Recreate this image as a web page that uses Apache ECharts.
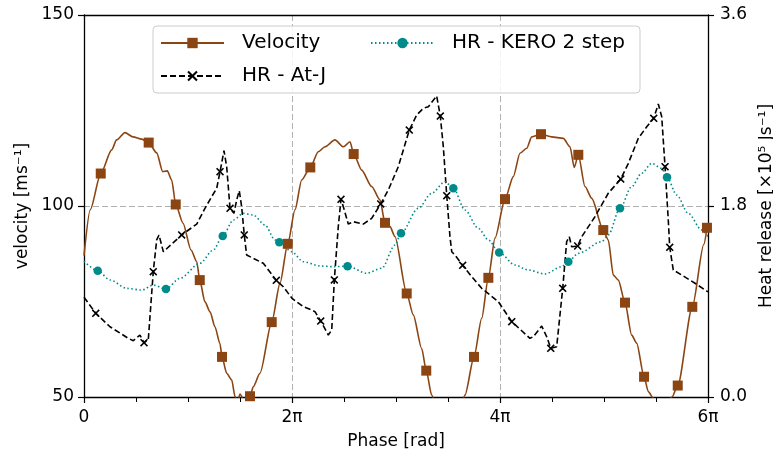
<!DOCTYPE html>
<html><head><meta charset="utf-8">
<script src="https://cdn.jsdelivr.net/npm/echarts@6/dist/echarts.min.js"></script>
<style>html,body{margin:0;padding:0;background:#fff}#c{width:773px;height:455px}</style>
</head><body><div id="c"></div><script>
// x values are phase in units of pi (rad / pi)
const velX = [0.0,0.06,0.161,0.266,0.314,0.394,0.471,0.555,0.622,0.699,0.757,0.801,0.843,0.882,0.952,1.029,1.084,1.113,1.163,1.212,1.259,1.307,1.327,1.372,1.420,1.452,1.476,1.500,1.538,1.596,1.628,1.692,1.805,1.885,1.959,2.029,2.093,2.176,2.253,2.317,2.413,2.493,2.558,2.593,2.670,2.766,2.846,2.894,2.942,2.990,3.103,3.166,3.247,3.291,3.343,3.423,3.519,3.596,3.663,3.750,3.824,3.888,3.952,4.048,4.128,4.192,4.257,4.305,4.394,4.497,4.609,4.673,4.714,4.753,4.817,4.882,4.993,5.041,5.090,5.138,5.202,5.266,5.314,5.385,5.426,5.474,5.538,5.606,5.654,5.709,5.849,5.960,5.990];
const velY = [87.0,99.0,108.5,114.7,117.3,119.2,118.1,117.5,116.6,113.9,109.0,109.2,106.8,100.4,95.5,88.5,85.4,80.6,74.9,72.3,68.4,64.0,60.5,56.2,54.5,50.1,48.7,50.8,49.2,50.2,52.7,56.2,69.6,79.8,90.1,99.0,106.8,110.1,114.2,115.5,117.3,115.5,116.8,113.6,109.4,105.1,101.6,95.6,94.6,92.0,77.1,71.5,62.7,56.9,50.5,44.0,41.5,44.0,50.5,60.5,70.6,81.2,91.6,101.8,107.7,113.8,115.1,118.1,118.8,118.1,117.7,115.5,110.1,113.4,105.1,102.0,93.7,91.1,81.9,80.6,74.7,66.2,64.1,55.3,51.4,49.7,47.9,48.7,50.0,53.0,73.6,90.0,94.3];
const velMarks = [2,8,13,17,22,29,32,34,37,43,47,50,53,59,61,63,68,73,76,80,83,89,90,92];

const ajX = [0.0,0.113,0.25,0.426,0.474,0.538,0.577,0.618,0.666,0.699,0.721,0.763,0.939,1.084,1.163,1.228,1.276,1.308,1.346,1.372,1.404,1.442,1.468,1.493,1.516,1.541,1.564,1.628,1.724,1.849,1.916,2.0,2.109,2.189,2.221,2.276,2.349,2.382,2.407,2.445,2.471,2.503,2.541,2.589,2.686,2.766,2.853,2.926,3.022,3.128,3.199,3.263,3.311,3.391,3.426,3.455,3.488,3.519,3.536,3.567,3.641,3.728,3.824,3.984,4.113,4.288,4.320,4.401,4.449,4.488,4.545,4.603,4.641,4.666,4.689,4.747,4.786,4.913,5.041,5.161,5.234,5.330,5.411,5.426,5.478,5.522,5.555,5.587,5.618,5.632,5.666,5.747,5.875,6.0];
const ajY = [0.94,0.789,0.662,0.553,0.531,0.584,0.512,0.537,1.181,1.480,1.527,1.369,1.527,1.630,1.778,1.888,1.967,2.123,2.321,2.170,1.778,1.731,1.857,1.944,1.793,1.527,1.338,1.307,1.260,1.100,1.039,0.930,0.851,0.820,0.804,0.716,0.584,0.631,1.103,1.605,1.863,1.762,1.630,1.652,1.630,1.684,1.819,1.951,2.170,2.516,2.658,2.721,2.736,2.837,2.648,2.359,1.897,1.511,1.369,1.338,1.241,1.134,1.024,0.898,0.710,0.553,0.568,0.669,0.568,0.459,0.474,1.024,1.464,1.511,1.416,1.423,1.511,1.699,1.920,2.054,2.202,2.438,2.547,2.563,2.626,2.761,2.642,2.170,1.668,1.411,1.197,1.150,1.072,0.990];
const ajMarks = [1,6,8,12,17,20,25,29,35,38,40,46,49,54,56,60,64,69,71,75,79,84,87,89];

const keX = [0.0,0.132,0.25,0.411,0.555,0.666,0.788,0.923,1.115,1.243,1.334,1.436,1.532,1.628,1.740,1.837,1.878,1.997,2.109,2.269,2.397,2.534,2.718,2.863,2.990,3.048,3.214,3.343,3.471,3.551,3.663,3.791,3.888,3.992,4.144,4.272,4.433,4.593,4.657,4.753,4.978,5.041,5.154,5.266,5.362,5.459,5.555,5.606,5.699,5.810,5.939,6.0];
const keY = [1.28,1.190,1.103,1.024,1.008,1.055,1.018,1.119,1.260,1.385,1.517,1.668,1.731,1.715,1.621,1.480,1.459,1.369,1.275,1.235,1.228,1.233,1.166,1.213,1.432,1.543,1.778,1.920,2.029,1.967,1.762,1.590,1.480,1.362,1.244,1.197,1.159,1.228,1.275,1.354,1.464,1.527,1.778,1.982,2.108,2.202,2.155,2.070,1.904,1.731,1.574,1.511];
const keMarks = [1,6,10,16,21,25,29,33,38,42,47];

const xTicks = [0, 2, 4, 6];
const xTickLabels = ['0', '2π', '4π', '6π'];

const FONT = 'DejaVu Sans';
const X_PATH = 'path://M0,1.4L1.4,0L5,3.6L8.6,0L10,1.4L6.4,5L10,8.6L8.6,10L5,6.4L1.4,10L0,8.6L3.6,5Z';

function build(xs, ys, marks) {
  const s = new Set(marks);
  return xs.map((x, i) => s.has(i) ? { value: [x, ys[i]] } : { value: [x, ys[i]], symbol: 'none' });
}

const chart = echarts.init(document.getElementById('c'), null, { renderer: 'canvas' });
const tickStyle = { fontSize: 17, color: '#000', fontFamily: FONT };
chart.setOption({
  animation: false,
  backgroundColor: '#fff',
  grid: { left: 84, right: 65, top: 15, bottom: 58, containLabel: false, outerBoundsMode: 'none' },
  graphic: [{
    type: 'rect', z: 3,
    shape: { x: 153, y: 26, width: 487, height: 67, r: 4 },
    style: { fill: 'rgba(255,255,255,0.85)', stroke: '#cccccc', lineWidth: 1 }
  }],
  legend: [{
    data: ['Velocity', 'HR - At-J'], orient: 'vertical', left: 160, top: 33, padding: 0,
    itemWidth: 63, itemHeight: 13, itemGap: 13, z: 5,
    textStyle: { fontSize: 20, lineHeight: 20, color: '#000', fontFamily: FONT, padding: [0, 0, 0, 13] }
  }, {
    data: ['HR - KERO 2 step'], orient: 'vertical', left: 370, top: 33, padding: 0,
    itemWidth: 63, itemHeight: 13, z: 5,
    textStyle: { fontSize: 20, lineHeight: 20, color: '#000', fontFamily: FONT, padding: [0, 0, 0, 13] }
  }],
  xAxis: [{
    type: 'value', min: 0, max: 6, interval: 2,
    name: 'Phase [rad]', nameLocation: 'middle', nameGap: 36,
    nameTextStyle: tickStyle,
    axisLine: { lineStyle: { color: '#000', width: 1.3 } },
    axisTick: { length: 6, lineStyle: { color: '#000', width: 1.2 } },
    minorTick: { show: true, splitNumber: 4, length: 5, lineStyle: { color: '#000', width: 1 } },
    axisLabel: Object.assign({ margin: 12, formatter: v => { const k = xTicks.indexOf(v); return k >= 0 ? xTickLabels[k] : ''; } }, tickStyle),
    splitLine: { show: true, lineStyle: { color: '#b0b0b0', type: [6, 3], width: 1 } }
  }, {
    type: 'value', min: 0, max: 6, position: 'top',
    axisLine: { show: true, onZero: false, lineStyle: { color: '#000', width: 1.3 } },
    axisTick: { show: false }, axisLabel: { show: false }, splitLine: { show: false }
  }],
  yAxis: [{
    type: 'value', min: 50, max: 150, interval: 50, position: 'left',
    name: 'velocity [ms⁻¹]', nameLocation: 'middle', nameGap: 53, nameRotate: 90,
    nameTextStyle: tickStyle,
    axisLine: { show: true, onZero: false, lineStyle: { color: '#000', width: 1.3 } },
    axisTick: { show: true, length: 6, lineStyle: { color: '#000', width: 1.2 } },
    axisLabel: Object.assign({ margin: 10 }, tickStyle),
    splitLine: { show: true, lineStyle: { color: '#b0b0b0', type: [6, 3], width: 1 } }
  }, {
    type: 'value', min: 0, max: 3.6, interval: 1.8, position: 'right',
    name: 'Heat release [×10⁵ Js⁻¹]', nameLocation: 'middle', nameGap: 49, nameRotate: 90,
    nameTextStyle: tickStyle,
    axisLine: { show: true, onZero: false, lineStyle: { color: '#000', width: 1.3 } },
    axisTick: { show: true, length: 6, lineStyle: { color: '#000', width: 1.2 } },
    axisLabel: Object.assign({ margin: 12, formatter: v => v.toFixed(1) }, tickStyle),
    splitLine: { show: false }
  }],
  series: [{
    name: 'Velocity', type: 'line', yAxisIndex: 0, clip: true,
    data: build(velX, velY, velMarks),
    smooth: 0.25, smoothMonotone: 'x',
    showSymbol: true, showAllSymbol: true, symbol: 'rect', symbolSize: 10,
    lineStyle: { color: '#8B4513', width: 1.6 },
    itemStyle: { color: '#8B4513' }, z: 2
  }, {
    name: 'HR - At-J', type: 'line', yAxisIndex: 1, clip: true,
    data: build(ajX, ajY, ajMarks),
    showSymbol: true, showAllSymbol: true, symbol: X_PATH, symbolSize: 8,
    lineStyle: { color: '#000', width: 1.6, type: [6, 3] },
    itemStyle: { color: '#000' }, z: 2
  }, {
    name: 'HR - KERO 2 step', type: 'line', yAxisIndex: 1, clip: true,
    data: build(keX, keY, keMarks),
    smooth: 0.3, smoothMonotone: 'x',
    showSymbol: true, showAllSymbol: true, symbol: 'circle', symbolSize: 8.5,
    lineStyle: { color: '#008B8B', width: 1.6, type: [1.5, 2.5] },
    itemStyle: { color: '#008B8B' }, z: 2
  }]
});
</script></body></html>
